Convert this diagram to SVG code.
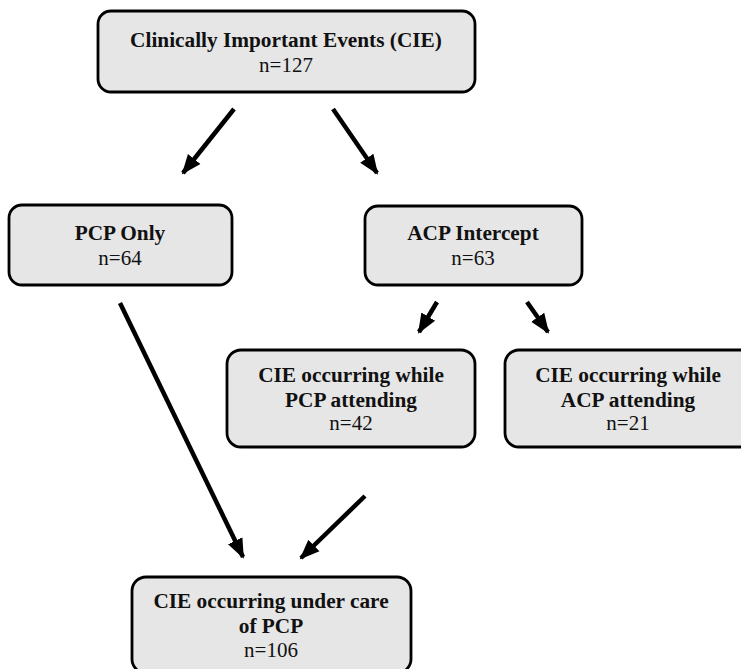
<svg xmlns="http://www.w3.org/2000/svg" width="741" height="669" viewBox="0 0 741 669">
<style>
.box{fill:#e6e6e6;stroke:#000;stroke-width:2.8}
.b{font-family:"Liberation Serif",serif;font-weight:bold;font-size:21.3px;text-anchor:middle;fill:#111}
.r{font-family:"Liberation Serif",serif;font-size:21px;text-anchor:middle;fill:#111}
.arr{stroke:#000;stroke-width:4.5;fill:none;marker-end:url(#ah)}
</style>
<defs>
<marker id="ah" markerUnits="userSpaceOnUse" markerWidth="20" markerHeight="20" viewBox="0 0 20 20" refX="18" refY="10" orient="auto">
<path d="M0,2 L20,10 L0,18 Z" fill="#000"/>
</marker>
</defs>
<rect width="741" height="669" fill="#fff"/>
<g id="connectors">
<line class="arr" x1="234" y1="109" x2="183" y2="173"/>
<line class="arr" x1="333" y1="109" x2="377" y2="173"/>
<line class="arr" x1="437" y1="302" x2="419" y2="332"/>
<line class="arr" x1="527" y1="302" x2="548" y2="332"/>
<line class="arr" x1="120" y1="303" x2="243" y2="557"/>
<line class="arr" x1="365" y1="496" x2="301" y2="558"/>
</g>
<g id="cie">
<rect class="box" x="98" y="11" width="377" height="81" rx="13"/>
<text class="b" x="286" y="47">Clinically Important Events (CIE)</text>
<text class="r" x="286" y="72">n=127</text>
</g>
<g id="pcp-only">
<rect class="box" x="9" y="205" width="223" height="80" rx="13"/>
<text class="b" x="120" y="240">PCP Only</text>
<text class="r" x="120" y="265">n=64</text>
</g>
<g id="acp-intercept">
<rect class="box" x="365" y="206" width="217" height="79" rx="13"/>
<text class="b" x="473" y="240">ACP Intercept</text>
<text class="r" x="473" y="265">n=63</text>
</g>
<g id="pcp-attending">
<rect class="box" x="227" y="350" width="248" height="97" rx="14"/>
<text class="b" x="351" y="382">CIE occurring while</text>
<text class="b" x="351" y="407">PCP attending</text>
<text class="r" x="351" y="430">n=42</text>
</g>
<g id="acp-attending">
<rect class="box" x="505" y="350" width="250" height="97" rx="14"/>
<text class="b" x="628" y="382">CIE occurring while</text>
<text class="b" x="628" y="407">ACP attending</text>
<text class="r" x="628" y="430">n=21</text>
</g>
<g id="under-care">
<rect class="box" x="132" y="577" width="279" height="96" rx="14"/>
<text class="b" x="271" y="608">CIE occurring under care</text>
<text class="b" x="271" y="633">of PCP</text>
<text class="r" x="271" y="657">n=106</text>
</g>
</svg>
